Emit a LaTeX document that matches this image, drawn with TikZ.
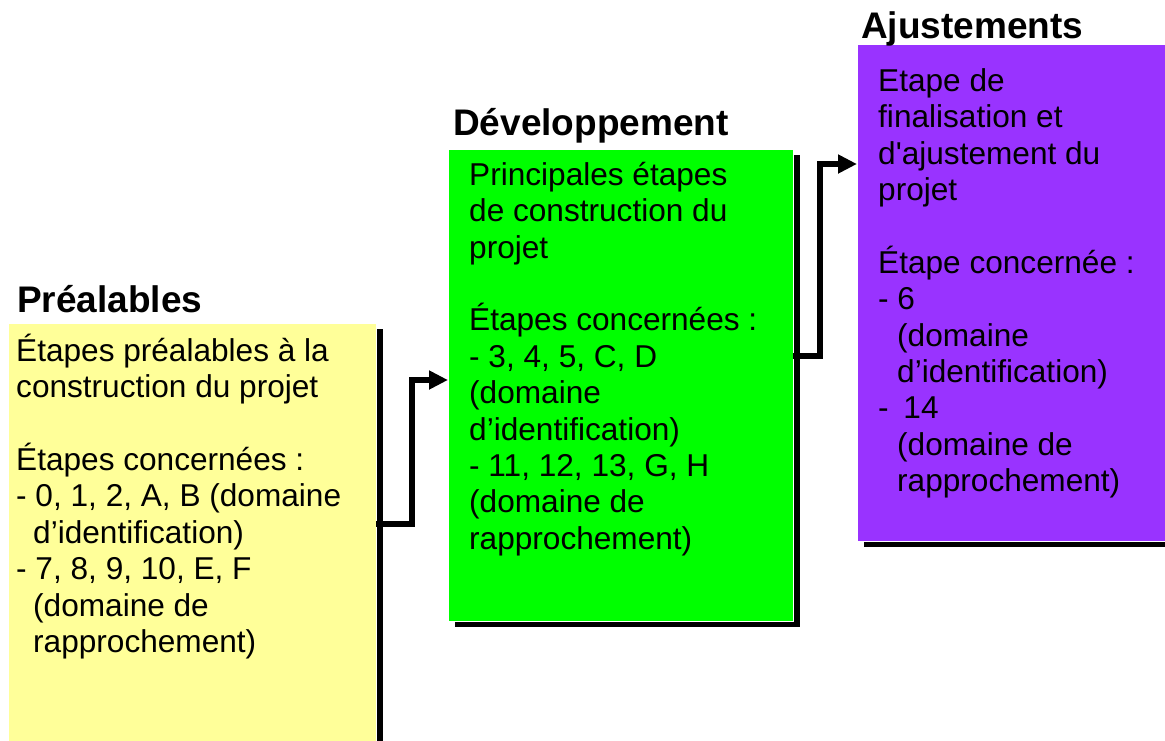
\documentclass[tikz,border=0pt]{standalone}
\usepackage{fontspec}
\setmainfont{Liberation Sans}[Ligatures=TeXOff]
\usetikzlibrary{arrows.meta,shadows}
\definecolor{yel}{HTML}{FFFF99}
\definecolor{grn}{HTML}{00FF00}
\definecolor{pur}{HTML}{9933FF}
\tikzset{
  box/.style={draw=white, line width=0.8pt, inner sep=0pt, outer sep=0pt, anchor=north west,
    drop shadow={shadow xshift=7pt, shadow yshift=-6pt, fill=black, opacity=1}},
  body/.style={anchor=north west, align=left, inner sep=0pt,
    font=\fontsize{31.6}{36.4}\selectfont},
  title/.style={anchor=base west, inner sep=0pt, font=\bfseries\fontsize{37}{44}\selectfont},
  conn/.style={line width=6pt, -{Triangle[length=19pt,width=18pt]}}
}
\begin{document}
\begin{tikzpicture}[x=1pt,y=-1pt]
\useasboundingbox (0,0) rectangle (1165,740);
% boxes
\node[box, fill=yel, minimum width=368pt, minimum height=460pt] (pre) at (8,323) {};
\node[box, fill=grn, minimum width=345pt, minimum height=472pt] (dev) at (448,149) {};
\node[box, fill=pur, minimum width=313pt, minimum height=497pt] (aju) at (857,44) {};
% titles
\node[title] (tpre) at (17,312) {Préalables};
\node[title] (tdev) at (453,135) {Développement};
\node[title] (taju) at (861,38) {Ajustements};
% texts
\node[body] (xpre) at (16,331) {\rule{0pt}{30pt}Étapes préalables à la\\
construction du projet\\[36.4pt]
Étapes concernées :\\
- 0, 1, 2, A, B (domaine\\
\hspace*{17pt}d’identification)\\
- 7, 8, 9, 10, E, F\\
\hspace*{17pt}(domaine de\\
\hspace*{17pt}rapprochement)};
\node[body] (xdev) at (469,155) {\rule{0pt}{30pt}Principales étapes\\
de construction du\\
projet\\[36.4pt]
Étapes concernées :\\
- 3, 4, 5, C, D\\
(domaine\\
d’identification)\\
- 11, 12, 13, G, H\\
(domaine de\\
rapprochement)};
\node[body] (xaju) at (878,61) {\rule{0pt}{30pt}Etape de\\
finalisation et\\
d'ajustement du\\
projet\\[36.4pt]
Étape concernée :\\
- 6\\
\hspace*{19pt}(domaine\\
\hspace*{19pt}d’identification)\\
- \hspace*{6pt}14\\
\hspace*{19pt}(domaine de\\
\hspace*{19pt}rapprochement)};
% connectors
\coordinate (a1) at (412,524);
\coordinate (a2) at (412,380);
\coordinate (b1) at (820,356);
\coordinate (b2) at (820,164);
\draw[conn] (pre.east |- a1) -- (a1) -- (a2) -- (dev.west |- a2);
\draw[conn] (dev.east |- b1) -- (b1) -- (b2) -- (aju.west |- b2);
\end{tikzpicture}
\end{document}
